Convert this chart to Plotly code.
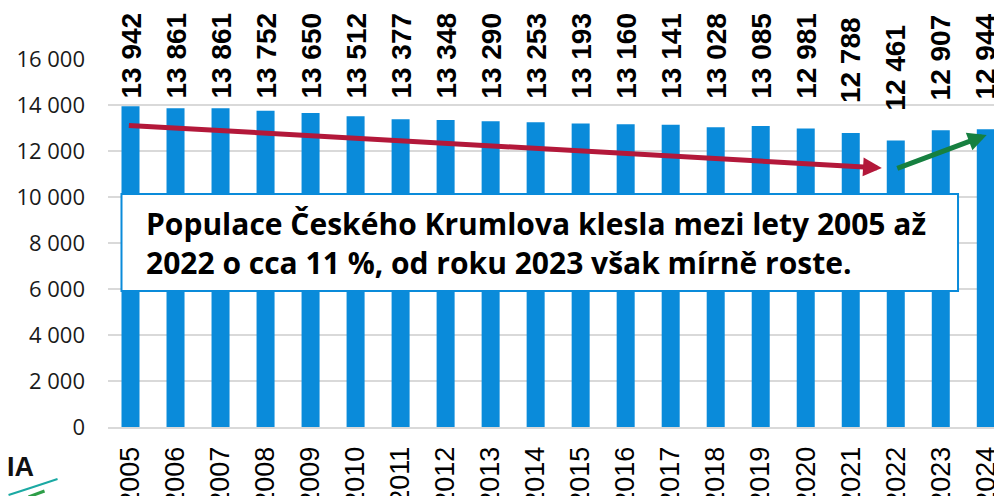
import plotly.graph_objects as go
import numpy as np

years = ["2005", "2006", "2007", "2008", "2009", "2010", "2011", "2012", "2013", "2014",
         "2015", "2016", "2017", "2018", "2019", "2020", "2021", "2022", "2023", "2024"]
population = [13942, 13861, 13861, 13752, 13650, 13512, 13377, 13348, 13290, 13253,
              13193, 13160, 13141, 13028, 13085, 12981, 12788, 12461, 12907, 12944]
y_tick_vals = [0, 2000, 4000, 6000, 8000, 10000, 12000, 14000, 16000]
y_tick_text = ["0", "2 000", "4 000", "6 000", "8 000", "10 000", "12 000", "14 000", "16 000"]
note_lines = ["Populace Českého Krumlova klesla mezi lety 2005 až",
              "2022 o cca 11 %, od roku 2023 však mírně roste."]

BAR = "#0A8BDA"
RED = "#B3183A"
GREEN = "#168040"

def fmt(v):
    return f"{v:,}".replace(",", " ")

fig = go.Figure()
fig.add_trace(go.Bar(x=years, y=population, marker=dict(color=BAR, line=dict(width=0)),
                     hoverinfo="skip"))

# data labels (Excel "outside end", clamped to the chart area)
label_pos = np.minimum(np.array(population) + 1240, 14217)
for i, (v, lp) in enumerate(zip(population, label_pos)):
    fig.add_annotation(x=i, y=float(lp), xref="x", yref="y", text=f"<b>{fmt(v)}</b>",
                       textangle=-90, showarrow=False, yanchor="bottom", xanchor="center",
                       font=dict(family="Liberation Sans, Arial", size=28, color="#000000"),
                       borderpad=0)

# trend arrows (positions in category index / value units)
fig.add_annotation(x=16.69, y=11261, ax=-0.07, ay=13117, xref="x", yref="y", axref="x", ayref="y",
                   showarrow=True, arrowhead=2, arrowsize=0.75, arrowwidth=5, arrowcolor=RED,
                   text="")
fig.add_annotation(x=19.02, y=12696, ax=17.0, ay=11217, xref="x", yref="y", axref="x", ayref="y",
                   showarrow=True, arrowhead=2, arrowsize=0.75, arrowwidth=5, arrowcolor=GREEN,
                   text="")

# plot area in window pixels (page body has an 8px margin)
OFF = 8
FW, FH = 1002 - OFF, 496 - OFF
L, R, T, B = 107.5, 1002, 59, 427
W, H = R - L, B - T
px = lambda x: (x - L) / W
py = lambda y: (B - y) / H

# text box
fig.add_shape(type="rect", xref="paper", yref="paper", x0=px(121), x1=px(958), y0=py(291), y1=py(194),
              line=dict(color=BAR, width=2), fillcolor="white", layer="above")
fig.add_annotation(xref="paper", yref="paper", x=px(144), y=py(243), xanchor="left", yanchor="middle",
                   text="<b>" + "<br>".join(note_lines) + "</b>", showarrow=False, align="left",
                   font=dict(family="Open Sans", size=30, color="#000000"))

# logo fragment at bottom-left
fig.add_annotation(xref="paper", yref="paper", x=px(35), y=py(467), xanchor="right", yanchor="middle",
                   text="<b>IA</b>", showarrow=False,
                   font=dict(family="Liberation Sans", size=27, color="#111111"))
fig.add_shape(type="path", xref="paper", yref="paper",
              path=f"M {px(8)},{py(495)} Q {px(30)},{py(488)} {px(57)},{py(479)}",
              line=dict(color="#1BA9A3", width=2))
fig.add_shape(type="path", xref="paper", yref="paper",
              path=f"M {px(28)},{py(497)} L {px(44)},{py(491)}",
              line=dict(color="#2E9E48", width=3))

fig.update_layout(
    width=FW, height=FH,
    margin=dict(l=L - OFF, r=FW - (R - OFF), t=T - OFF, b=FH - (B - OFF)),
    paper_bgcolor="white", plot_bgcolor="white",
    bargap=0.6, showlegend=False,
)
fig.update_xaxes(type="category", range=[-0.5, 19.36], tickangle=-90, automargin=False,
                 tickfont=dict(family="Liberation Sans, Arial", size=27, color="#000000"),
                 showline=True, linecolor="#D9D9D9", linewidth=2, ticks="", ticklabelstandoff=7,
                 showgrid=False)
fig.update_yaxes(range=[0, 16000], tickvals=y_tick_vals, ticktext=y_tick_text, automargin=False,
                 tickfont=dict(family="Open Sans", size=22, color="#1A1A1A"),
                 showgrid=True, gridcolor="#D9D9D9", gridwidth=2, zeroline=False,
                 ticks="", ticklabelstandoff=22)

fig.write_html("out.html")
